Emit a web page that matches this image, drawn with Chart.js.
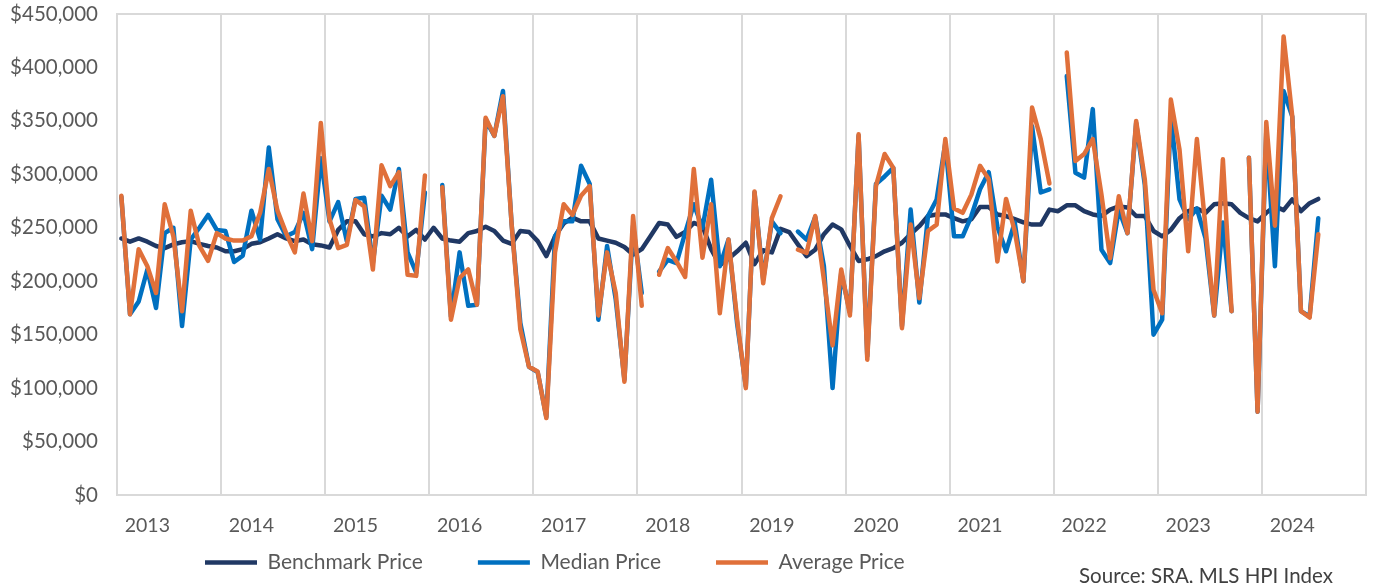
<!DOCTYPE html>
<html>
<head>
<meta charset="utf-8">
<script src="https://cdn.jsdelivr.net/npm/chart.js@4.4.1/dist/chart.umd.min.js"></script>
<style>
  html, body { margin: 0; padding: 0; background: #fff; }
  #wrap { width: 1376px; height: 583px; position: relative; }
</style>
</head>
<body>
<div id="wrap"><canvas id="prezzi"></canvas></div>
<script>
// categorie mensili: ott 2012 .. set 2024 (etichetta = anno a gennaio)
const firstYear = 2012;
const firstMonth = 10;
const monthCount = 144;
const months = [];
for (let i = 0; i < monthCount; i++) {
    const m = (firstMonth - 1 + i) % 12 + 1;
    const y = firstYear + Math.floor((firstMonth - 1 + i) / 12);
    months.push(y + '-' + String(m).padStart(2, '0'));
}

const seriesNames = ['Benchmark Price', 'Median Price', 'Average Price'];
const seriesColors = ['#203864', '#0070c0', '#e0703a'];
const sourceNote = 'Source: SRA, MLS HPI Index';

// valori (una riga = 12 mesi, da ottobre)
const benchmark = [
    240000, 237000, 240000, 237000, 233000, 231000, 234500, 236500, 237500, 235000, 233000, 231500,
    228000, 228000, 230000, 235000, 236500, 240000, 244000, 240000, 237500, 239000, 234500, 233500,
    231500, 248000, 256000, 256000, 244000, 242000, 245000, 244000, 250000, 242000, 248000, 239000,
    250000, 240000, 238000, 237000, 245000, 247000, 251000, 247000, 238000, 235000, 247000, 246000,
    237500, 223500, 242000, 254000, 259500, 256000, 256000, 240000, 238000, 236000, 232000, 225000,
    230000, 242000, 254500, 253000, 241500, 246000, 254500, 251500, 230000, 215000, 221000, 228000,
    236000, 216000, 229000, 227000, 249000, 246000, 234500, 223500, 229500, 244000, 253000, 248500,
    233000, 219000, 220500, 223500, 228000, 231000, 236000, 244000, 251500, 261000, 262500, 262500,
    259000, 256000, 258000, 269500, 269500, 262500, 261000, 258000, 255000, 253000, 253000, 267000,
    265500, 271000, 271000, 265500, 262500, 261000, 267000, 270000, 269000, 261000, 261000, 247000,
    242000, 248000, 259000, 265500, 268000, 264000, 272000, 273000, 272000, 264000, 259000, 256000,
    264000, 270000, 266500, 276500, 265500, 273000, 277000
];

const median = [
    279000, 169000, 181000, 211000, 175000, 245000, 250000, 158000, 239000, 250000, 262000, 248000,
    247000, 218000, 224000, 266000, 239000, 325000, 258000, 242000, 246000, 264000, 230000, 315000,
    256000, 274000, 237500, 277000, 278000, 217000, 280000, 267000, 305000, 227000, 208000, 283000,
    null, 290000, 167000, 227000, 177000, 178000, 351000, 336000, 378000, 253000, 161000, 120000,
    115000, 73000, 242000, 256000, 256000, 308000, 291000, 164000, 233000, 183000, 108000, 252000,
    189000, null, 209000, 220000, 217000, 245000, 272000, 250000, 295000, 214000, 239000, 160000,
    101500, 283000, 201500, 256000, 245000, null, 246500, 239000, 260000, 214000, 100000, 208000,
    171000, 336000, 130000, 291000, 298000, 306000, 158000, 267000, 180000, 261000, 276500, 329500,
    242000, 242000, 261000, 286000, 302000, 251000, 228000, 255000, 200000, 345000, 283000, 286000,
    null, 392000, 301500, 297000, 361000, 229500, 217000, 267000, 245000, 348000, 290000, 150000,
    164000, 355000, 276500, 258000, 268000, 240000, 168000, 255000, 172000, null, 315500, 78000,
    340000, 214000, 378000, 354000, 172000, 167000, 259000
];

const average = [
    280000, 169000, 230000, 214000, 189000, 272000, 242000, 172000, 266000, 233000, 219000, 245000,
    240000, 238000, 238000, 242000, 264000, 305000, 266000, 245000, 227000, 282000, 237500, 348000,
    258000, 231000, 234000, 276000, 270000, 211000, 308500, 289000, 302000, 206000, 205000, 299000,
    null, 288000, 164000, 203000, 211000, 178000, 353000, 336000, 373000, 253000, 155000, 120000,
    115500, 72000, 227000, 272000, 262000, 280000, 289000, 168000, 227000, 189000, 106000, 261000,
    177000, null, 206000, 231000, 218500, 204000, 305000, 222000, 272000, 170000, 239000, 164000,
    100000, 284000, 198000, 259000, 279500, null, 229500, 226500, 261000, 201500, 140000, 211000,
    168000, 337500, 126500, 289000, 319000, 306000, 156000, 253000, 184000, 247000, 253000, 333000,
    268000, 264000, 281000, 308000, 295500, 218500, 277000, 247000, 200000, 362500, 333000, 291500,
    null, 414000, 312500, 319000, 333000, 281000, 221500, 279500, 245000, 350000, 295000, 192000,
    170000, 370000, 323000, 228000, 333000, 250000, 168000, 314000, 172000, null, 315500, 78000,
    349000, 252000, 429000, 354000, 172000, 166000, 244000
];

const testo = '#595959';
const griglia = '#d9d9d9';

// cornice grigia attorno all'area del grafico
const cornice = {
    id: 'cornice',
    beforeDatasetsDraw(chart) {
        const { ctx, chartArea: a } = chart;
        ctx.save();
        ctx.strokeStyle = griglia;
        ctx.lineWidth = 2;
        ctx.strokeRect(a.left, a.top, a.width, a.height);
        ctx.restore();
    }
};

// legenda spostata a sinistra, come nell'originale
const posLegenda = {
    id: 'posLegenda',
    afterLayout(chart) {
        const lg = chart.legend;
        const pad = lg.options.labels.padding;
        lg.left = chart.chartArea.left + 88 - pad;
        lg.right = lg.left + lg.width;
        lg.top = chart.chartArea.bottom + 57 - pad;
        lg.height = pad + 40;
        lg.bottom = lg.top + lg.height;
    }
};

const fonte = {
    id: 'fonte',
    afterDraw(chart) {
        const { ctx, chartArea: a } = chart;
        ctx.save();
        ctx.font = '20.5px Lato';
        ctx.fillStyle = '#404040';
        ctx.textAlign = 'right';
        ctx.textBaseline = 'middle';
        ctx.fillText(sourceNote, a.right - 33, a.bottom + 81);
        ctx.restore();
    }
};

function serie(label, data, color, order) {
    return {
        label: label,
        data: data,
        borderColor: color,
        backgroundColor: color,
        borderWidth: 4.5,
        borderCapStyle: 'round',
        borderJoinStyle: 'round',
        pointRadius: 0,
        tension: 0,
        spanGaps: false,
        order: order
    };
}

const ctx = document.getElementById('prezzi').getContext('2d');
new Chart(ctx, {
    type: 'line',
    data: {
        labels: months,
        datasets: [
            serie(seriesNames[0], benchmark, seriesColors[0], 3),
            serie(seriesNames[1], median, seriesColors[1], 2),
            serie(seriesNames[2], average, seriesColors[2], 1)
        ]
    },
    options: {
        responsive: true,
        maintainAspectRatio: false,
        animation: false,
        devicePixelRatio: 1,
        layout: { padding: { left: 0, right: 10, top: 14, bottom: 0 } },
        plugins: {
            legend: {
                display: true,
                position: 'bottom',
                align: 'start',
                maxHeight: 1,
                labels: {
                    usePointStyle: true,
                    pointStyle: 'line',
                    pointStyleWidth: 52,
                    padding: 55,
                    color: testo,
                    font: { family: 'Lato', size: 21 },
                    sort: (a, b) => a.datasetIndex - b.datasetIndex
                }
            },
            tooltip: { enabled: false }
        },
        scales: {
            x: {
                type: 'category',
                offset: true,
                afterFit: (s) => { s.height = 87; s.paddingLeft = 0; s.paddingRight = 0; },
                grid: {
                    offset: true,
                    drawTicks: false,
                    lineWidth: 2,
                    color: (c) => (c.index % 12 === 0 ? griglia : 'rgba(0,0,0,0)')
                },
                border: { display: false },
                ticks: {
                    autoSkip: false,
                    maxRotation: 0,
                    minRotation: 0,
                    padding: 19,
                    color: testo,
                    font: { family: 'Lato', size: 19.5 },
                    callback: function (val, i) {
                        return months[i].endsWith('-01') ? months[i].slice(0, 4) : '';
                    }
                }
            },
            y: {
                min: 0,
                max: 450000,
                afterFit: (s) => { s.width = 117; s.paddingTop = 0; s.paddingBottom = 0; },
                grid: { display: false, drawTicks: false },
                border: { display: false },
                ticks: {
                    stepSize: 50000,
                    padding: 19,
                    color: testo,
                    font: { family: 'Lato', size: 20.5 },
                    callback: (v) => '$' + v.toLocaleString('en-US')
                }
            }
        }
    },
    plugins: [cornice, posLegenda, fonte]
});
</script>
</body>
</html>
